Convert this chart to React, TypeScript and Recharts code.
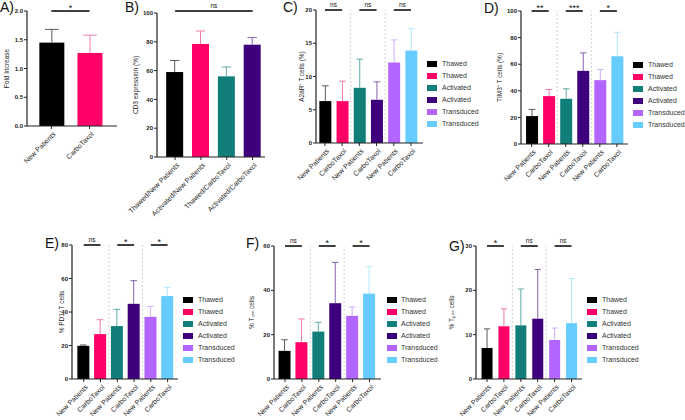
import React from 'react';
import { BarChart, Bar, XAxis, YAxis, ReferenceLine } from 'recharts';

// ---------------- data ----------------
const colors = ['#000000', '#FF0066', '#127E7A', '#3F007D', '#B266FF', '#66CCFF'];
const errColors = ['#5a5a5a', '#F07AAE', '#5FABA6', '#8563AD', '#D2ADFF', '#B3E5FF'];
const legendLabels = ['Thawed', 'Thawed', 'Activated', 'Activated', 'Transduced', 'Transduced'];
const pairCats = ['New Patients', 'CarboTaxol', 'New Patients', 'CarboTaxol', 'New Patients', 'CarboTaxol'];

const aCats = ['New Patients', 'CarboTaxol'];
const aMean = [1.45, 1.27];
const aUpper = [1.68, 1.58];
const aTicks = [0, 0.5, 1.0, 1.5, 2.0];
const aSig: [number, number, string][] = [[1, 2, '*']];

const bCats = ['Thawed/New Patients', 'Activated/New Patients', 'Thawed/CarboTaxol', 'Activated/CarboTaxol'];
const bMean = [59, 78.5, 56, 78];
const bUpper = [67, 87.5, 62.5, 83];
const bTicks = [0, 20, 40, 60, 80, 100];
const bSig: [number, number, string][] = [[1, 4, 'ns']];

const cMean = [6.3, 6.3, 8.3, 6.5, 12.1, 13.9];
const cUpper = [8.6, 9.3, 12.6, 9.2, 15.5, 17.2];
const cTicks = [0, 5, 10, 15, 20];
const cSig: [number, number, string][] = [[1, 2, 'ns'], [3, 4, 'ns'], [5, 6, 'ns']];

const dMean = [21, 36, 34, 55, 48, 66];
const dUpper = [26, 41, 41.5, 68.5, 56, 84];
const dTicks = [0, 20, 40, 60, 80, 100];
const dSig: [number, number, string][] = [[1, 2, '**'], [3, 4, '***'], [5, 6, '*']];

const eMean = [19.8, 26.8, 31.6, 44.9, 37.1, 49.5];
const eUpper = [20.3, 35.4, 41.6, 58.7, 43.3, 54.7];
const eTicks = [0, 20, 40, 60, 80];
const eSig: [number, number, string][] = [[1, 2, 'ns'], [3, 4, '*'], [5, 6, '*']];

const fMean = [12.7, 16.6, 21.4, 34.2, 28.5, 38.5];
const fUpper = [17.7, 27.1, 25.6, 52.6, 32.5, 50.7];
const fTicks = [0, 20, 40, 60];
const fSig: [number, number, string][] = [[1, 2, 'ns'], [3, 4, '*'], [5, 6, '*']];

const gMean = [7.0, 11.9, 12.1, 13.6, 8.8, 12.6];
const gUpper = [11.3, 15.8, 20.3, 24.7, 11.5, 22.7];
const gTicks = [0, 10, 20, 30];
const gSig: [number, number, string][] = [[1, 2, '*'], [3, 4, 'ns'], [5, 6, 'ns']];

const groupSeps = [2.5, 4.5];

// ---------------- layout ----------------
const FONT = '"Liberation Sans", Arial, sans-serif';
const W_Y = 40;
const MT = 26;
const XH = 90;

type Layout = {
  axisX: number; top: number; bottom: number; right: number;
  domain: [number, number]; barSize: number; labelX: number;
  letter: string; letterX: number; letterY: number; sigY?: number;
  legend?: { sqX: number; textX: number; y0: number };
  fmt?: (v: number) => string;
};

const LA: Layout = { axisX: 27, top: 11, bottom: 126, right: 117, domain: [0.36, 2.72], barSize: 25, labelX: 6.5, letter: 'A)', letterX: 0, letterY: 0, fmt: (v) => v.toFixed(1) };
const LB: Layout = { axisX: 157, top: 13, bottom: 157, right: 265, domain: [0.3, 4.48], barSize: 17, labelX: 136, letter: 'B)', letterX: 125, letterY: 0, sigY: 101.4 };
const LC: Layout = { axisX: 316, top: 10, bottom: 143, right: 423, domain: [0.48, 6.7], barSize: 12, labelX: 302, letter: 'C)', letterX: 283, letterY: 0, legend: { sqX: 427, textX: 442, y0: 64 } };
const LD: Layout = { axisX: 521, top: 11, bottom: 144, right: 628, domain: [0.38, 6.65], barSize: 12, labelX: 500, letter: 'D)', letterX: 484, letterY: 1, legend: { sqX: 633, textX: 648, y0: 65 } };
const LE: Layout = { axisX: 72, top: 245, bottom: 379, right: 178, domain: [0.3, 6.62], barSize: 12, labelX: 62, letter: 'E)', letterX: 45, letterY: 236, legend: { sqX: 183, textX: 198, y0: 300 } };
const LF: Layout = { axisX: 274, top: 246, bottom: 379, right: 381, domain: [0.35, 6.68], barSize: 12, labelX: 252, letter: 'F)', letterX: 246, letterY: 236, legend: { sqX: 387, textX: 401, y0: 300 } };
const LG: Layout = { axisX: 476, top: 246, bottom: 379, right: 582, domain: [0.35, 6.62], barSize: 11, labelX: 452, letter: 'G)', letterX: 449, letterY: 239, legend: { sqX: 587, textX: 602, y0: 300 } };

const makeShape = () => (p: any) => {
  const { x, y, width, height, index, payload } = p;
  if (!payload || !(payload.v > 0)) return <g />;
  const ppu = height / payload.v;
  const yErr = y + height - payload.u * ppu;
  const cx = x + width / 2;
  const cap = width * 0.55;
  return (
    <g>
      <rect x={x} y={y} width={width} height={height} fill={colors[index]} />
      <line x1={cx} x2={cx} y1={y} y2={yErr} stroke={errColors[index]} strokeWidth={1} />
      <line x1={cx - cap / 2} x2={cx + cap / 2} y1={yErr} y2={yErr} stroke={errColors[index]} strokeWidth={1} />
    </g>
  );
};

const makeXTick = (cats: string[]) => (p: any) => {
  const { x, y, payload } = p;
  const label = cats[Math.round(payload.value) - 1];
  const ax = x + 3;
  const ay = y + 3;
  return (
    <text x={ax} y={ay} dy="0.32em" textAnchor="end" transform={`rotate(-45, ${ax}, ${ay})`}
      fontSize={7} fill="#222" fontFamily={FONT}>{label}</text>
  );
};

function Legend6({ L }: { L: Layout }) {
  if (!L.legend) return null;
  const lg = L.legend;
  return (
    <>
      {legendLabels.map((t, i) => (
        <React.Fragment key={i}>
          <div style={{ position: 'absolute', left: lg.sqX, top: lg.y0 + i * 12 - 3, width: 10, height: 6, background: colors[i] }} />
          <div style={{ position: 'absolute', left: lg.textX, top: lg.y0 + i * 12 - 5, fontSize: 7, lineHeight: '10px', color: '#333', fontFamily: FONT, whiteSpace: 'nowrap' }}>{t}</div>
        </React.Fragment>
      ))}
    </>
  );
}

function Panel({ L, cats, mean, upper, ticks, sig, seps, yLabel }: {
  L: Layout; cats: string[]; mean: number[]; upper: number[]; ticks: number[];
  sig: [number, number, string][]; seps: number[]; yLabel: string;
}) {
  const plotW = L.right - L.axisX;
  const plotH = L.bottom - L.top;
  const width = W_Y + plotW + 6;
  const height = MT + plotH + XH;
  const rows = cats.map((c, i) => ({ x: i + 1, name: c, v: mean[i], u: upper[i] }));
  const yMax = ticks[ticks.length - 1];
  const sigY = L.sigY ?? yMax;
  const xTicks = cats.map((_, i) => i + 1);
  return (
    <>
      <div style={{ position: 'absolute', left: L.axisX - W_Y, top: L.top - MT }}>
        <BarChart width={width} height={height} data={rows} margin={{ top: MT, right: 6, left: 0, bottom: 0 }}>
          <XAxis
            type="number" dataKey="x" domain={L.domain} ticks={xTicks} interval={0} allowDataOverflow
            height={XH} tickSize={3} tickMargin={1}
            tick={makeXTick(cats)}
            axisLine={{ stroke: '#222', strokeWidth: 1.2 }} tickLine={{ stroke: '#222' }}
          />
          <YAxis
            type="number" domain={[0, yMax]} ticks={ticks} interval={0} allowDataOverflow width={W_Y} tickSize={3} tickMargin={1}
            tickFormatter={(v: number) => (L.fmt ? L.fmt(v) : String(v))}
            tick={{ fontSize: 6, fill: '#222', fontWeight: 'bold', fontFamily: FONT }}
            axisLine={{ stroke: '#222', strokeWidth: 1.2 }} tickLine={{ stroke: '#222' }}
            label={{ value: yLabel, angle: -90, position: 'center', dx: L.labelX - (L.axisX - W_Y / 2), fontSize: 6.5, fill: '#222', fontFamily: FONT }}
          />
          {seps.map((s) => (
            <ReferenceLine key={'s' + s} x={s} stroke="#c4c4c4" strokeDasharray="2 2" strokeWidth={0.8} />
          ))}
          <Bar dataKey="v" barSize={L.barSize} isAnimationActive={false} shape={makeShape()} />
          {sig.map(([a, b, t], i) => (
            <ReferenceLine
              key={'g' + i}
              segment={[{ x: a, y: sigY }, { x: b, y: sigY }]}
              stroke="#000" strokeWidth={1.5} ifOverflow="visible"
              label={{ value: t, position: 'top', fontSize: t === 'ns' ? 6.5 : 9, fill: '#111', offset: t === 'ns' ? 3 : 0, fontFamily: FONT }}
            />
          ))}
        </BarChart>
      </div>
      <div style={{ position: 'absolute', left: L.letterX, top: L.letterY, fontSize: 14, lineHeight: '14px', fontFamily: FONT, color: '#111' }}>{L.letter}</div>
      <Legend6 L={L} />
    </>
  );
}

export default function App() {
  return (
    <div style={{ position: 'absolute', left: 0, top: 0, width: 685, height: 420, overflow: 'hidden', background: '#fff', fontFamily: FONT }}>
      <Panel L={LA} cats={aCats} mean={aMean} upper={aUpper} ticks={aTicks} sig={aSig} seps={[]} yLabel="Fold Increase" />
      <Panel L={LB} cats={bCats} mean={bMean} upper={bUpper} ticks={bTicks} sig={bSig} seps={[]} yLabel="CD3 expression (%)" />
      <Panel L={LC} cats={pairCats} mean={cMean} upper={cUpper} ticks={cTicks} sig={cSig} seps={groupSeps} yLabel="A2aR⁺ T cells (%)" />
      <Panel L={LD} cats={pairCats} mean={dMean} upper={dUpper} ticks={dTicks} sig={dSig} seps={groupSeps} yLabel="TIM3⁺ T cells (%)" />
      <Panel L={LE} cats={pairCats} mean={eMean} upper={eUpper} ticks={eTicks} sig={eSig} seps={groupSeps} yLabel="% PD1⁺ T cells" />
      <Panel L={LF} cats={pairCats} mean={fMean} upper={fUpper} ticks={fTicks} sig={fSig} seps={groupSeps} yLabel="% Tₜₑₓ cells" />
      <Panel L={LG} cats={pairCats} mean={gMean} upper={gUpper} ticks={gTicks} sig={gSig} seps={groupSeps} yLabel="% Tₚₑₓ cells" />
    </div>
  );
}
